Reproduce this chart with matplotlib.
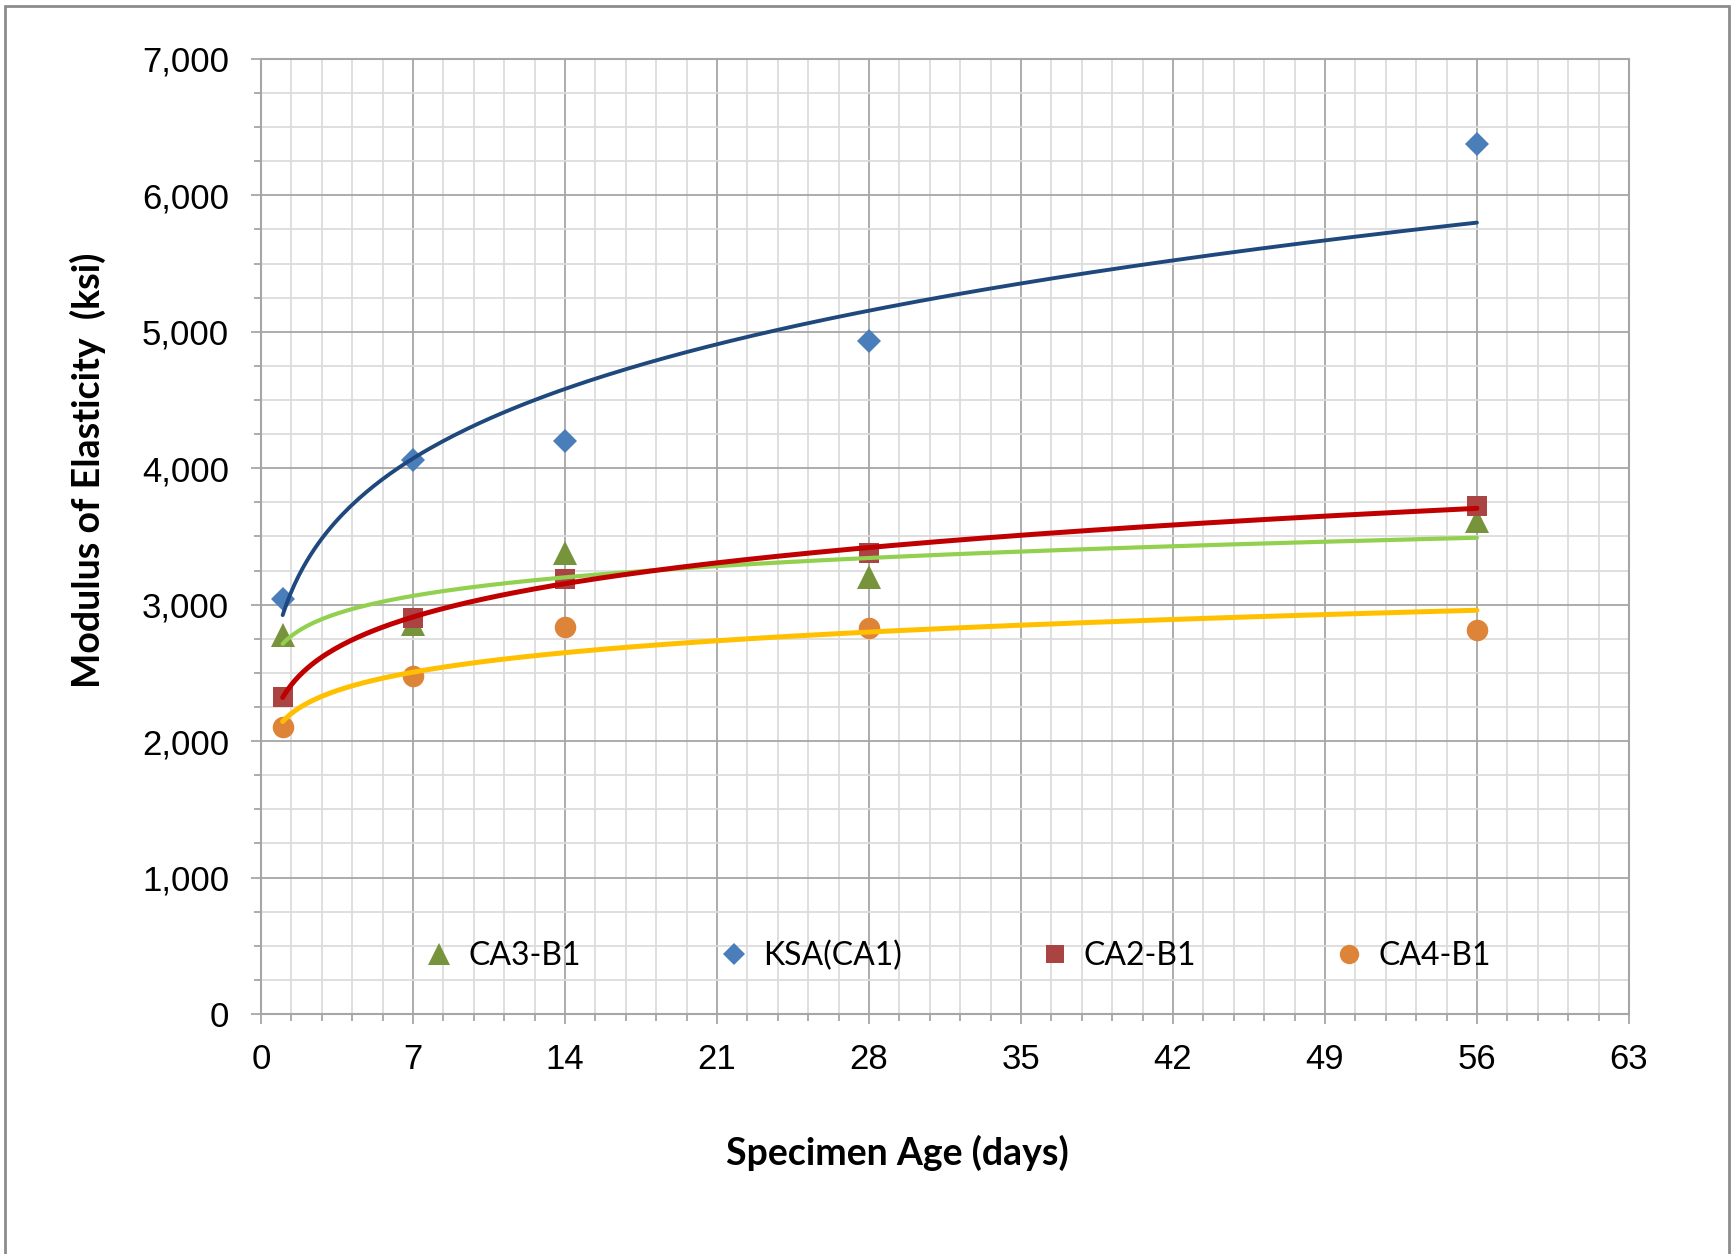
import numpy as np
import matplotlib
matplotlib.use("Agg")
import matplotlib.pyplot as plt
from matplotlib.ticker import MultipleLocator, FuncFormatter
from matplotlib.patches import Rectangle

# specimen ages (days) and measured modulus (ksi)
age = [1, 7, 14, 28, 56]
ksa_ca1 = [3040, 4060, 4200, 4930, 6380]
ca2_b1 = [2320, 2900, 3190, 3380, 3720]
ca3_b1 = [2780, 2860, 3380, 3200, 3610]
ca4_b1 = [2100, 2480, 2840, 2830, 2815]

# name, values, marker, marker size, marker colour, trend colour, trend width
series = [
    ["CA3-B1", ca3_b1, "^", 17, "#77933C", "#92D050", 3.0],
    ["KSA(CA1)", ksa_ca1, "D", 12, "#4A7EBB", "#1F497D", 2.8],
    ["CA2-B1", ca2_b1, "s", 15, "#AA4443", "#C00000", 3.6],
    ["CA4-B1", ca4_b1, "o", 15.5, "#DD8439", "#FFC000", 3.6],
]


def power_fit(x, y):
    # y = c * x^p, least squares on log-log like a spreadsheet power trendline
    p, lnc = np.polyfit(np.log(x), np.log(y), 1)
    return np.exp(lnc), p


fig = plt.figure(figsize=(17.34, 12.54), dpi=100)
ax = fig.add_axes([0.1505, 0.1914, 0.7889, 0.7616])

xs = np.linspace(age[0], age[-1], 300)
for s in series:
    ax.plot(age, s[1], linestyle="none", marker=s[2], markersize=s[3],
            color=s[4], markeredgewidth=0, label=s[0], zorder=3)
    c, p = power_fit(age, s[1])
    ax.plot(xs, c * xs ** p, color=s[5], linewidth=s[6], zorder=4,
            solid_capstyle="round")

ax.set_xlim(0, 63)
ax.set_ylim(0, 7000)
ax.xaxis.set_major_locator(MultipleLocator(7))
ax.xaxis.set_minor_locator(MultipleLocator(1.4))
ax.yaxis.set_major_locator(MultipleLocator(1000))
ax.yaxis.set_minor_locator(MultipleLocator(250))
ax.yaxis.set_major_formatter(FuncFormatter(lambda v, pos: "{:,.0f}".format(v)))

ax.grid(True, which="major", color="#A6A6A6", linewidth=1.3, zorder=1)
ax.grid(True, which="minor", color="#DCDCDC", linewidth=1.3, zorder=0)
ax.set_axisbelow(True)
for side in ["left", "bottom", "top", "right"]:
    ax.spines[side].set_color("#A6A6A6")
    ax.spines[side].set_linewidth(1.5)

ax.tick_params(axis="both", which="both", direction="out", color="#A6A6A6",
               width=1.3)
ax.tick_params(axis="both", which="major", length=7, labelsize=25)
ax.tick_params(axis="both", which="minor", length=5)
ax.tick_params(axis="x", which="major", pad=14)
ax.tick_params(axis="y", which="major", pad=16)
for lab in ax.get_xticklabels() + ax.get_yticklabels():
    lab.set_family("Liberation Sans")

ax.set_xlabel("Specimen Age (days)", fontsize=27, fontweight="bold",
              family="Lato")
ax.xaxis.set_label_coords(0.465, -0.126)
ax.set_ylabel("Modulus of Elasticity  (ksi)", fontsize=27, fontweight="bold",
              family="Lato")
ax.yaxis.set_label_coords(-0.113, 0.569)

leg = ax.legend(loc="center", bbox_to_anchor=(0.51, 0.061), ncol=4,
                frameon=False, prop={"family": "Lato", "size": 23},
                handlelength=0.8, handletextpad=0.5, columnspacing=4.4,
                markerscale=0.9)

# grey frame round the whole chart area
fig.patches.append(Rectangle((0.003, -0.05), 0.994, 1.045,
                             transform=fig.transFigure, fill=False,
                             edgecolor="#8C8C8C", linewidth=2))

fig.savefig("out.png", dpi=100)
